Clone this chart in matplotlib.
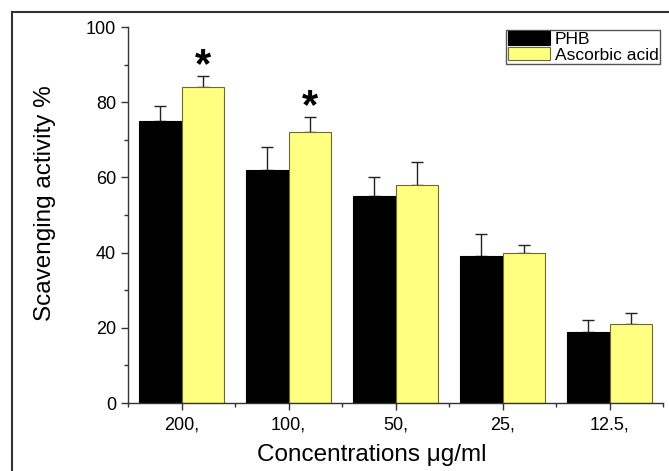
import matplotlib
matplotlib.use("Agg")
import matplotlib.pyplot as plt
import numpy as np
from matplotlib.lines import Line2D

plt.rcParams.update({
    "font.family": ["Liberation Sans", "DejaVu Sans"],
    "font.size": 12,
})

# data
concentrations = ["200,", "100,", "50,", "25,", "12.5,"]
phb = [75, 62, 55, 39, 19]
phb_err = [4, 6, 5, 6, 3]
ascorbic = [84, 72, 58, 40, 21]
ascorbic_err = [3, 4, 6, 2, 3]
star_idx = [0, 1]  # significant groups (ascorbic acid bars)

x = np.arange(len(concentrations))
width = 0.4

fig = plt.figure(figsize=(6.69, 4.71), dpi=100)
ax = fig.add_axes([128 / 669, 1 - 403 / 471, 535 / 669, 376 / 471])

ax.bar(x - width / 2, phb, width, color="black", edgecolor="black",
       linewidth=0.8, label="PHB", zorder=2)
ax.bar(x + width / 2, ascorbic, width, color="#FFFF80", edgecolor="#6b6b30",
       linewidth=0.8, label="Ascorbic acid", zorder=2)

# upper error bars only
ax.errorbar(x - width / 2, phb, yerr=[np.zeros(len(phb)), phb_err], fmt="none",
            ecolor="#222222", elinewidth=1, capsize=4.5, capthick=1, zorder=1)
ax.errorbar(x + width / 2, ascorbic, yerr=[np.zeros(len(ascorbic)), ascorbic_err],
            fmt="none", ecolor="#222222", elinewidth=1, capsize=4.5, capthick=1, zorder=1)

# significance stars
for i in star_idx:
    ax.text(x[i] + width / 2, ascorbic[i] + ascorbic_err[i] - 0.3, "*",
            ha="center", va="baseline", fontsize=30, fontweight="bold")

ax.set_xlim(-0.5, 4.5)
ax.set_ylim(0, 100)
ax.set_xticks(x)
ax.set_xticklabels(concentrations)
ax.set_xticks(np.arange(-0.5, 5, 1), minor=True)
ax.set_yticks(np.arange(0, 101, 20))
ax.set_yticks(np.arange(10, 100, 20), minor=True)

ax.tick_params(axis="both", which="major", direction="out", length=5,
               width=1, labelsize=13, color="#333333")
ax.tick_params(axis="x", which="major", pad=5)
ax.tick_params(axis="both", which="minor", direction="out", length=3,
               width=1, color="#333333")

for s in ["top", "right"]:
    ax.spines[s].set_visible(False)
for s in ["left", "bottom"]:
    ax.spines[s].set_color("#333333")
    ax.spines[s].set_linewidth(1)

ax.set_xlabel("Concentrations \u03bcg/ml", fontsize=17.5, va="top")
ax.xaxis.set_label_coords(0.455, -0.11)
ax.set_ylabel("Scavenging activity %", fontsize=17.5, va="center")
ax.yaxis.set_label_coords(-0.155, 0.532)

leg = ax.legend(loc="upper right", bbox_to_anchor=(0.995, 0.993),
                fancybox=False, framealpha=1, edgecolor="#555555",
                fontsize=12.5, borderpad=0.1, handlelength=2.4,
                handleheight=0.8, labelspacing=0.0, handletextpad=0.3,
                borderaxespad=0)
leg.get_frame().set_linewidth(1)

# outer frame around the plot
fig.add_artist(Line2D([12 / 669, 12 / 669], [0, 1 - 12 / 471],
                      transform=fig.transFigure, color="#333333", lw=1.5))
fig.add_artist(Line2D([12 / 669, 1], [1 - 12 / 471, 1 - 12 / 471],
                      transform=fig.transFigure, color="#333333", lw=1.5))

fig.savefig("out.png", dpi=100)
